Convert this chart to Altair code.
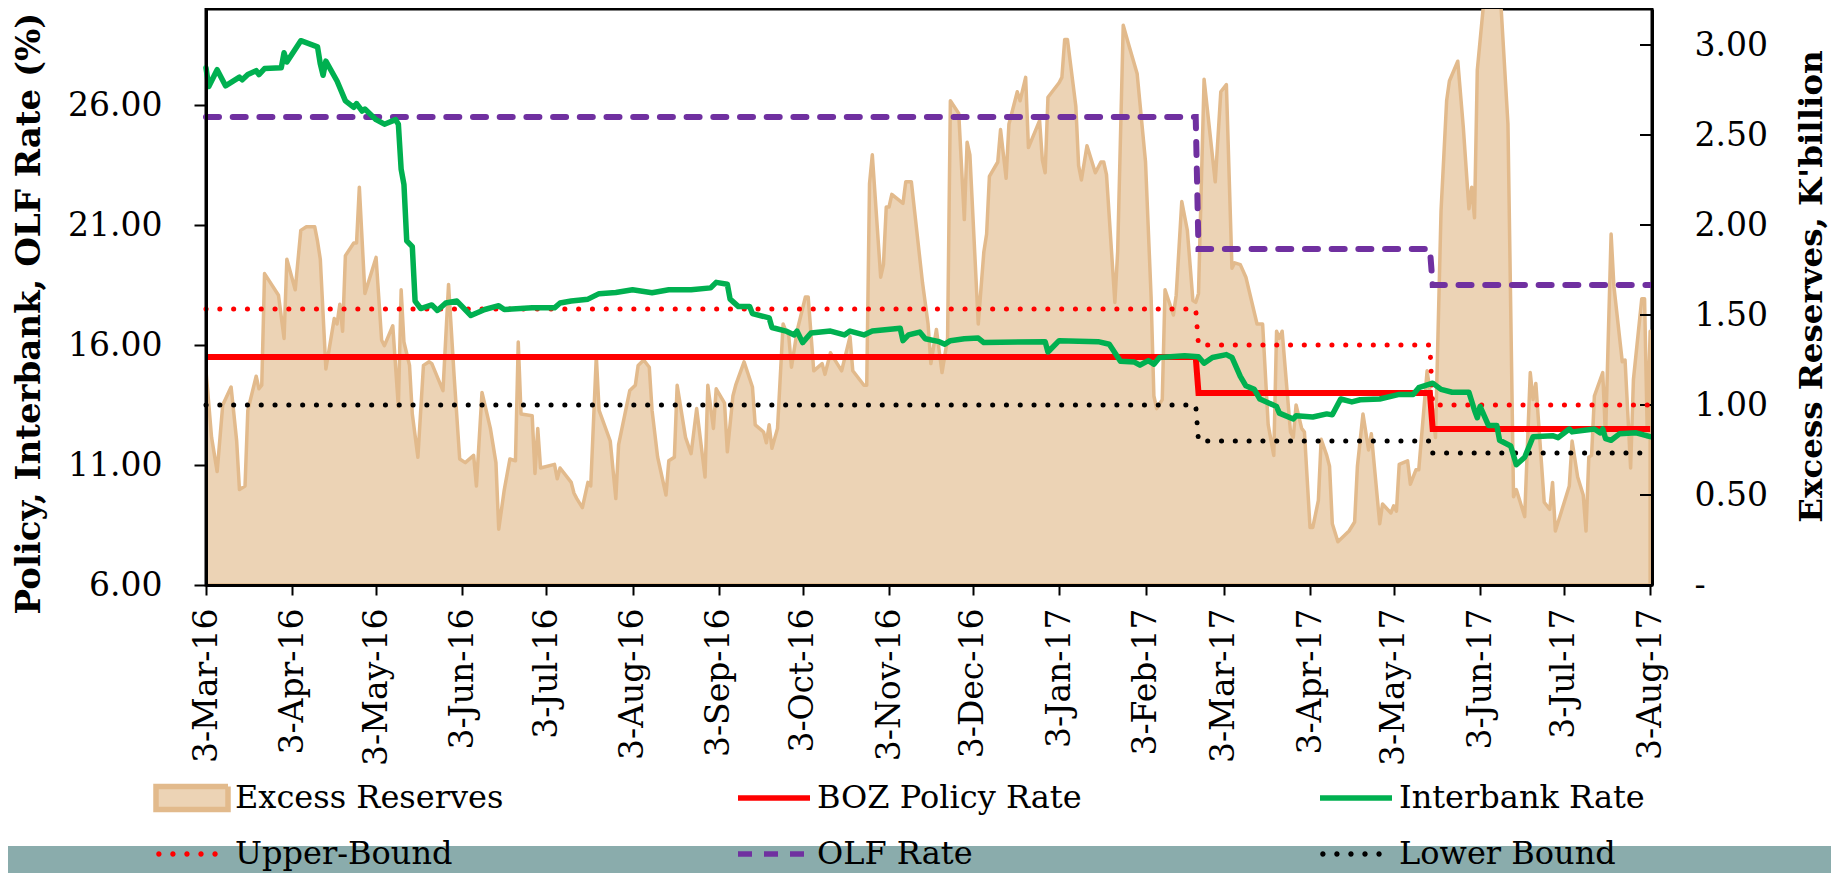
import altair as alt
import pandas as pd

# ---------------- data ----------------
SERIES = ["Excess Reserves", "BOZ Policy Rate", "Interbank Rate",
          "Upper-Bound", "OLF Rate", "Lower Bound"]

RES_DATES = [
    "2016-03-03", "2016-03-05", "2016-03-07", "2016-03-09", "2016-03-12", "2016-03-14", "2016-03-15",
    "2016-03-17", "2016-03-18", "2016-03-21", "2016-03-22", "2016-03-23", "2016-03-24", "2016-03-29",
    "2016-03-31", "2016-04-01", "2016-04-04", "2016-04-06", "2016-04-08", "2016-04-11", "2016-04-12",
    "2016-04-13", "2016-04-15", "2016-04-18", "2016-04-19", "2016-04-20", "2016-04-21", "2016-04-22",
    "2016-04-25", "2016-04-26", "2016-04-27", "2016-04-29", "2016-05-03", "2016-05-05", "2016-05-06",
    "2016-05-09", "2016-05-11", "2016-05-12", "2016-05-13", "2016-05-15", "2016-05-16", "2016-05-18",
    "2016-05-20", "2016-05-22", "2016-05-23", "2016-05-27", "2016-05-29", "2016-05-31", "2016-06-02",
    "2016-06-04", "2016-06-07", "2016-06-08", "2016-06-10", "2016-06-13", "2016-06-15", "2016-06-16",
    "2016-06-18", "2016-06-20", "2016-06-22", "2016-06-23", "2016-06-24", "2016-06-28", "2016-06-29",
    "2016-06-30", "2016-07-01", "2016-07-06", "2016-07-07", "2016-07-08", "2016-07-12", "2016-07-13",
    "2016-07-14", "2016-07-16", "2016-07-18", "2016-07-19", "2016-07-21", "2016-07-22", "2016-07-26",
    "2016-07-28", "2016-07-29", "2016-08-02", "2016-08-04", "2016-08-05", "2016-08-07", "2016-08-09",
    "2016-08-10", "2016-08-12", "2016-08-15", "2016-08-16", "2016-08-18", "2016-08-19", "2016-08-22",
    "2016-08-24", "2016-08-26", "2016-08-29", "2016-08-30", "2016-09-01", "2016-09-02", "2016-09-05",
    "2016-09-06", "2016-09-08", "2016-09-09", "2016-09-12", "2016-09-15", "2016-09-16", "2016-09-19",
    "2016-09-20", "2016-09-21", "2016-09-22", "2016-09-24", "2016-09-26", "2016-09-27", "2016-09-28",
    "2016-09-29", "2016-10-01", "2016-10-04", "2016-10-05", "2016-10-07", "2016-10-10", "2016-10-11",
    "2016-10-13", "2016-10-17", "2016-10-20", "2016-10-21", "2016-10-25", "2016-10-26", "2016-10-27",
    "2016-10-28", "2016-10-31", "2016-11-01", "2016-11-02", "2016-11-03", "2016-11-04", "2016-11-08",
    "2016-11-09", "2016-11-11", "2016-11-15", "2016-11-17", "2016-11-18", "2016-11-20", "2016-11-22",
    "2016-11-24", "2016-11-25", "2016-11-28", "2016-11-30", "2016-12-01", "2016-12-02", "2016-12-05",
    "2016-12-07", "2016-12-08", "2016-12-09", "2016-12-12", "2016-12-13", "2016-12-15", "2016-12-16",
    "2016-12-19", "2016-12-20", "2016-12-22", "2016-12-23", "2016-12-27", "2016-12-28", "2016-12-29",
    "2016-12-30", "2017-01-03", "2017-01-04", "2017-01-05", "2017-01-06", "2017-01-09", "2017-01-10",
    "2017-01-11", "2017-01-13", "2017-01-16", "2017-01-18", "2017-01-19", "2017-01-20", "2017-01-23",
    "2017-01-24", "2017-01-26", "2017-01-28", "2017-01-31", "2017-02-03", "2017-02-05", "2017-02-06",
    "2017-02-07", "2017-02-09", "2017-02-10", "2017-02-13", "2017-02-14", "2017-02-16", "2017-02-18",
    "2017-02-20", "2017-02-21", "2017-02-22", "2017-02-24", "2017-02-28", "2017-03-02", "2017-03-04",
    "2017-03-06", "2017-03-07", "2017-03-09", "2017-03-11", "2017-03-15", "2017-03-17", "2017-03-19",
    "2017-03-21", "2017-03-22", "2017-03-23", "2017-03-24", "2017-03-27", "2017-03-28", "2017-03-29",
    "2017-03-31", "2017-04-01", "2017-04-03", "2017-04-04", "2017-04-06", "2017-04-07", "2017-04-09",
    "2017-04-10", "2017-04-11", "2017-04-13", "2017-04-17", "2017-04-19", "2017-04-20", "2017-04-22",
    "2017-04-24", "2017-04-25", "2017-04-28", "2017-04-29", "2017-05-02", "2017-05-03", "2017-05-04",
    "2017-05-05", "2017-05-08", "2017-05-09", "2017-05-11", "2017-05-12", "2017-05-15", "2017-05-17",
    "2017-05-18", "2017-05-20", "2017-05-22", "2017-05-23", "2017-05-26", "2017-05-28", "2017-05-30",
    "2017-05-31", "2017-06-01", "2017-06-02", "2017-06-05", "2017-06-10", "2017-06-13", "2017-06-15",
    "2017-06-16", "2017-06-19", "2017-06-21", "2017-06-22", "2017-06-23", "2017-06-26", "2017-06-28",
    "2017-06-29", "2017-06-30", "2017-07-05", "2017-07-06", "2017-07-08", "2017-07-10", "2017-07-11",
    "2017-07-12", "2017-07-13", "2017-07-14", "2017-07-17", "2017-07-18", "2017-07-20", "2017-07-21",
    "2017-07-24", "2017-07-25", "2017-07-27", "2017-07-28", "2017-07-31", "2017-08-01", "2017-08-02",
    "2017-08-03",
]
RES_VALUES = [
    1.19, 0.82, 0.63, 1.00, 1.10, 0.80, 0.53,
    0.55, 0.97, 1.16, 1.09, 1.11, 1.73, 1.61,
    1.37, 1.81, 1.64, 1.97, 1.99, 1.99, 1.91,
    1.81, 1.20, 1.48, 1.45, 1.56, 1.41, 1.83,
    1.90, 1.90, 2.21, 1.62, 1.82, 1.36, 1.33,
    1.44, 0.99, 1.64, 1.35, 1.22, 0.95, 0.71,
    1.22, 1.24, 1.23, 1.08, 1.67, 1.16, 0.70,
    0.68, 0.72, 0.55, 1.07, 0.87, 0.68, 0.31,
    0.53, 0.70, 0.69, 1.35, 0.95, 0.94, 0.62,
    0.87, 0.65, 0.67, 0.59, 0.65, 0.57, 0.51,
    0.48, 0.43, 0.57, 0.55, 1.27, 0.97, 0.80,
    0.48, 0.78, 1.08, 1.11, 1.22, 1.25, 1.21,
    0.97, 0.71, 0.50, 0.69, 0.71, 1.11, 0.82,
    0.73, 0.98, 0.60, 1.11, 0.87, 1.09, 1.01,
    0.74, 1.05, 1.11, 1.24, 1.10, 0.89, 0.85,
    0.79, 0.89, 0.76, 0.87, 1.45, 1.41, 1.39,
    1.21, 1.41, 1.60, 1.60, 1.19, 1.23, 1.17,
    1.29, 1.19, 1.38, 1.19, 1.11, 1.11, 2.23,
    2.39, 1.71, 1.78, 2.10, 2.10, 2.17, 2.12,
    2.24, 2.24, 1.68, 1.45, 1.23, 1.42, 1.18,
    1.37, 2.69, 2.62, 2.03, 2.46, 2.39, 1.45,
    1.85, 1.95, 2.27, 2.35, 2.53, 2.26, 2.56,
    2.74, 2.69, 2.82, 2.43, 2.58, 2.36, 2.29,
    2.71, 2.79, 2.82, 3.03, 3.03, 2.66, 2.33,
    2.25, 2.44, 2.29, 2.35, 2.35, 2.28, 1.57,
    1.85, 3.11, 3.00, 2.84, 2.35, 1.60, 1.05,
    0.98, 1.03, 1.64, 1.50, 1.61, 2.13, 1.97,
    1.58, 1.57, 1.62, 2.81, 2.24, 2.74, 2.78,
    1.76, 1.79, 1.78, 1.71, 1.45, 1.45, 0.89,
    0.72, 1.41, 1.37, 1.41, 0.85, 0.82, 1.00,
    0.87, 0.85, 0.32, 0.32, 0.47, 0.81, 0.72,
    0.66, 0.34, 0.24, 0.30, 0.35, 0.66, 0.95,
    0.75, 0.84, 0.34, 0.45, 0.40, 0.44, 0.41,
    0.67, 0.69, 0.56, 0.64, 0.64, 1.19, 0.97,
    0.82, 2.08, 2.69, 2.80, 2.91, 2.54, 2.09,
    2.21, 2.04, 2.86, 3.35, 3.35, 2.56, 0.49,
    0.53, 0.38, 1.18, 1.03, 1.12, 0.46, 0.42,
    0.57, 0.30, 0.55, 0.80, 0.60, 0.50, 0.30,
    0.71, 0.72, 1.05, 1.18, 0.82, 1.95, 1.66,
    1.24, 1.25, 0.65, 1.14, 1.59, 1.59, 0.82,
    1.41,
]

IB_DATES = [
    "2016-03-03", "2016-03-04", "2016-03-07", "2016-03-10", "2016-03-15", "2016-03-16", "2016-03-18",
    "2016-03-21", "2016-03-22", "2016-03-24", "2016-03-30", "2016-03-31", "2016-04-01", "2016-04-06",
    "2016-04-12", "2016-04-13", "2016-04-14", "2016-04-15", "2016-04-19", "2016-04-22", "2016-04-25",
    "2016-04-26", "2016-04-28", "2016-04-29", "2016-05-03", "2016-05-06", "2016-05-10", "2016-05-11",
    "2016-05-12", "2016-05-13", "2016-05-14", "2016-05-16", "2016-05-17", "2016-05-19", "2016-05-23",
    "2016-05-25", "2016-05-28", "2016-06-01", "2016-06-06", "2016-06-11", "2016-06-16", "2016-06-18",
    "2016-06-28", "2016-07-06", "2016-07-08", "2016-07-12", "2016-07-18", "2016-07-22", "2016-07-28",
    "2016-08-03", "2016-08-10", "2016-08-16", "2016-08-24", "2016-08-31", "2016-09-02", "2016-09-06",
    "2016-09-07", "2016-09-10", "2016-09-14", "2016-09-15", "2016-09-21", "2016-09-22", "2016-09-27",
    "2016-09-30", "2016-10-01", "2016-10-03", "2016-10-06", "2016-10-13", "2016-10-18", "2016-10-20",
    "2016-10-25", "2016-10-28", "2016-11-07", "2016-11-08", "2016-11-10", "2016-11-14", "2016-11-16",
    "2016-11-21", "2016-11-23", "2016-11-25", "2016-11-30", "2016-12-05", "2016-12-07", "2016-12-29",
    "2016-12-30", "2017-01-03", "2017-01-17", "2017-01-21", "2017-01-25", "2017-01-30", "2017-02-01",
    "2017-02-04", "2017-02-06", "2017-02-08", "2017-02-17", "2017-02-22", "2017-02-24", "2017-02-27",
    "2017-03-04", "2017-03-06", "2017-03-09", "2017-03-11", "2017-03-14", "2017-03-16", "2017-03-22",
    "2017-03-23", "2017-03-28", "2017-03-29", "2017-04-04", "2017-04-09", "2017-04-11", "2017-04-14",
    "2017-04-18", "2017-04-21", "2017-04-28", "2017-05-05", "2017-05-10", "2017-05-12", "2017-05-17",
    "2017-05-20", "2017-05-24", "2017-05-30", "2017-06-01", "2017-06-02", "2017-06-03", "2017-06-06",
    "2017-06-09", "2017-06-10", "2017-06-14", "2017-06-16", "2017-06-19", "2017-06-22", "2017-06-29",
    "2017-07-01", "2017-07-05", "2017-07-06", "2017-07-14", "2017-07-16", "2017-07-17", "2017-07-18",
    "2017-07-20", "2017-07-23", "2017-07-29", "2017-08-03",
]
IB_VALUES = [
    27.55, 26.77, 27.47, 26.80, 27.16, 27.05, 27.27,
    27.43, 27.27, 27.52, 27.55, 28.18, 27.79, 28.68,
    28.42, 27.71, 27.24, 27.83, 27.00, 26.17, 25.90,
    26.06, 25.75, 25.83, 25.39, 25.20, 25.39, 25.20,
    23.32, 22.69, 20.34, 20.10, 17.83, 17.52, 17.67,
    17.44, 17.75, 17.83, 17.23, 17.48, 17.64, 17.48,
    17.55, 17.55, 17.75, 17.83, 17.91, 18.14, 18.19,
    18.30, 18.18, 18.30, 18.30, 18.38, 18.61, 18.53,
    17.91, 17.60, 17.60, 17.31, 17.13, 16.73, 16.58,
    16.42, 16.58, 16.10, 16.50, 16.58, 16.42, 16.58,
    16.42, 16.58, 16.70, 16.18, 16.42, 16.54, 16.26,
    16.14, 16.03, 16.18, 16.26, 16.29, 16.10, 16.14,
    15.71, 16.18, 16.14, 16.03, 15.32, 15.29, 15.16,
    15.35, 15.20, 15.48, 15.55, 15.51, 15.24, 15.48,
    15.60, 15.48, 14.69, 14.30, 14.15, 13.75, 13.44,
    13.16, 12.92, 13.05, 13.00, 13.13, 13.09, 13.75,
    13.63, 13.72, 13.75, 13.94, 13.94, 14.22, 14.41,
    14.15, 14.03, 14.03, 13.28, 12.97, 13.44, 12.65,
    12.65, 12.03, 11.79, 11.01, 11.32, 12.18, 12.22,
    12.14, 12.50, 12.38, 12.50, 12.34, 12.50, 12.10,
    12.03, 12.30, 12.34, 12.18,
]

STEP_DATES = ["2016-03-03", "2017-02-21", "2017-02-22", "2017-05-16", "2017-05-17", "2017-08-03"]
POLICY_RATE = [15.5, 15.5, 14.0, 14.0, 12.5, 12.5]
UPPER_BOUND = [17.5, 17.5, 16.0, 16.0, 13.5, 13.5]
LOWER_BOUND = [13.5, 13.5, 12.0, 12.0, 11.5, 11.5]
OLF_RATE = [25.5, 25.5, 20.0, 20.0, 18.5, 18.5]

X_TICKS = ["2016-03-03", "2016-04-03", "2016-05-03", "2016-06-03", "2016-07-03", "2016-08-03",
           "2016-09-03", "2016-10-03", "2016-11-03", "2016-12-03", "2017-01-03", "2017-02-03",
           "2017-03-03", "2017-04-03", "2017-05-03", "2017-06-03", "2017-07-03", "2017-08-03"]
LEFT_TICKS = [6, 11, 16, 21, 26]
RIGHT_TICKS = [0, 0.5, 1.0, 1.5, 2.0, 2.5, 3.0]

# ---------------- styles ----------------
AREA_FILL = "#ECD3B5"
AREA_LINE = "#E2BA8C"
RED, GREEN, PURPLE, BLACK = "#FF0000", "#00B050", "#7030A0", "#000000"
FONT = "DejaVu Serif"
W, H = 1446, 576


def dots_path(xs, r):
    return " ".join(
        f"M{x - r:.3f},0A{r},{r} 0 1,0 {x + r:.3f},0A{r},{r} 0 1,0 {x - r:.3f},0Z" for x in xs
    )


DOTS = dots_path([-0.92, -0.53, -0.14, 0.25, 0.64], 0.075)
RECT = "M-1,-0.32H1V0.32H-1Z"
# legend symbol style per entry: (shape, fill, stroke, dash)
LEG_STYLE = {
    "Excess Reserves": (RECT, AREA_FILL, AREA_LINE, [1, 0]),
    "BOZ Policy Rate": ("stroke", "transparent", RED, [1, 0]),
    "Interbank Rate": ("stroke", "transparent", GREEN, [1, 0]),
    "Upper-Bound": (DOTS, RED, "transparent", [1, 0]),
    "OLF Rate": ("stroke", "transparent", PURPLE, [14, 12]),
    "Lower Bound": (DOTS, BLACK, "transparent", [1, 0]),
}
# the legend grid is filled column by column: order entries so rows read as in the reference
LEG_ORDER = [SERIES[i] for i in (0, 3, 1, 4, 2, 5)]


def dt(s, hours=0):
    y, m, d = (int(v) for v in s.split("-"))
    return alt.DateTime(year=y, month=m, date=d, hours=hours, utc=True)


x_enc = alt.X(
    "date:T",
    scale=alt.Scale(type="utc", domain=[dt("2016-03-03"), dt("2017-08-03", 16)]),
    axis=alt.Axis(values=[dt(s) for s in X_TICKS], format="%-d-%b-%y", labelAngle=270,
                  labelFontSize=33, tickSize=10, labelPadding=13, title=None, zindex=1,
                  labelFlush=False, labelOverlap=False),
)

y_left = alt.Y(
    "rate:Q",
    scale=alt.Scale(domain=[6, 30], nice=False, zero=False),
    axis=alt.Axis(orient="left", values=LEFT_TICKS, format=".2f", labelFontSize=33,
                  tickSize=12, labelPadding=32, title="Policy, Interbank, OLF Rate (%)",
                  titleFontSize=34, titleAngle=270, titleX=-177, titleY=304,
                  titleAlign="center", titleBaseline="middle", zindex=1,
                  labelFlush=False),
)

y_right = alt.Y(
    "reserves:Q",
    scale=alt.Scale(domain=[0, 3.2], nice=False, zero=True),
    axis=alt.Axis(orient="right", values=RIGHT_TICKS,
                  labelExpr="datum.value == 0 ? '-' : format(datum.value, '.2f')",
                  ticks=False, labelPadding=42, labelFontSize=33,
                  title="Excess Reserves, K'billion", titleFontSize=32.5, titleAngle=270,
                  titleX=159, titleY=277, titleAlign="center", titleBaseline="middle",
                  zindex=1, labelFlush=False),
)

legend = alt.Legend(
    title=None, orient="none", legendX=-53, legendY=770, columns=3, columnPadding=231,
    rowPadding=18, gridAlign="all", labelFont=FONT, labelFontSize=32, labelColor="black",
    labelOffset=4, labelLimit=600, symbolSize=5184, symbolStrokeWidth=5.5, symbolOffset=0,
    symbolOpacity=1, clipHeight=38, padding=0,
)

# ---------------- layers ----------------
band = alt.Chart(pd.DataFrame({"band": [1]})).mark_rect(color="#8AACAC").encode(
    x=alt.value(-230), x2=alt.value(1700), y=alt.value(837), y2=alt.value(900)
)

res_df = pd.DataFrame({"date": RES_DATES, "reserves": RES_VALUES})
area = alt.Chart(res_df).mark_area(
    fill=AREA_FILL, stroke=AREA_LINE, strokeWidth=3.5, clip=True, opacity=1, strokeJoin="round"
).encode(x=x_enc, y=y_right)

rt_df = pd.DataFrame({"reserves": RIGHT_TICKS[1:]})
right_ticks = alt.Chart(rt_df).mark_rule(color="black", strokeWidth=2).encode(
    x=alt.value(W - 12), x2=alt.value(W), y=y_right
)


def step_layer(values, color, width, dash, cap):
    df = pd.DataFrame({"date": STEP_DATES, "rate": values})
    return alt.Chart(df).mark_line(color=color, strokeWidth=width, strokeDash=dash, strokeCap=cap).encode(
        x=x_enc, y=y_left
    )


olf = step_layer(OLF_RATE, PURPLE, 6, [13, 13.7], "round")
upper = step_layer(UPPER_BOUND, RED, 5, [0.1, 13.7], "round")
lower = step_layer(LOWER_BOUND, BLACK, 5, [0.1, 13.7], "round")
policy = step_layer(POLICY_RATE, RED, 6, [1, 0], "butt")

ib_df = pd.DataFrame({"date": IB_DATES, "rate": IB_VALUES})
interbank = alt.Chart(ib_df).mark_line(color=GREEN, strokeWidth=5.5, strokeJoin="round",
                                       strokeCap="round").encode(x=x_enc, y=y_left)

# legend-only layer: no data rows survive the filter; legend entries come from the scale domains
leg_df = pd.DataFrame({"series": SERIES})


def leg_scale(k):
    return alt.Scale(domain=LEG_ORDER, range=[LEG_STYLE[s][k] for s in LEG_ORDER])


legend_layer = alt.Chart(leg_df).transform_filter("false").mark_point(
    filled=True, opacity=1
).encode(
    shape=alt.Shape("series:N", scale=leg_scale(0), legend=legend),
    fill=alt.Fill("series:N", scale=leg_scale(1), legend=legend),
    stroke=alt.Stroke("series:N", scale=leg_scale(2), legend=legend),
    strokeDash=alt.StrokeDash("series:N", scale=leg_scale(3), legend=legend),
)

chart = alt.layer(
    band,
    alt.layer(area, right_ticks),
    alt.layer(olf, upper, lower, policy, interbank, legend_layer),
).resolve_scale(
    y="independent"
).properties(
    width=W, height=H,
    autosize=alt.AutoSizeParams(type="none"),
    padding={"left": 198, "top": 1, "right": 179, "bottom": 288},
    background="white",
).configure_view(
    stroke="black", strokeWidth=3
).configure_axis(
    labelFont=FONT, titleFont=FONT, labelColor="black", titleColor="black",
    domainColor="black", domainWidth=3, tickColor="black", tickWidth=2, grid=False,
    titleFontWeight="bold",
)

chart.save("out.html", embed_options={"renderer": "svg", "actions": False})
